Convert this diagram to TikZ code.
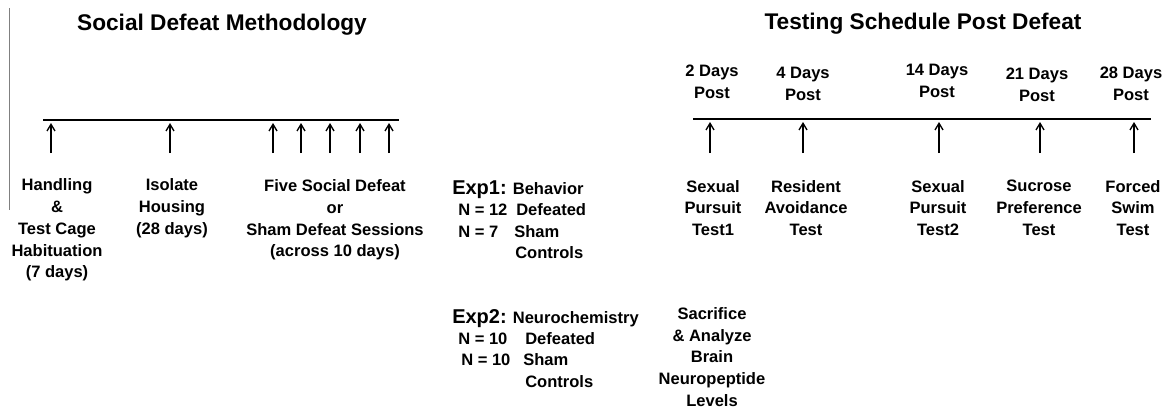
\documentclass[tikz,border=0pt]{standalone}
\usepackage{fontspec}
\setmainfont{Liberation Sans}
\usetikzlibrary{arrows.meta}
\tikzset{
  %% Styles %%
  timeline/.style = {line width=1.5pt},
  uparrow/.style = {line width=1pt, -{Straight Barb[length=5pt,width=6pt]}},
  heading/.style = {font=\fontsize{17}{20}\selectfont\bfseries, inner sep=0},
  block/.style = {font=\fontsize{12.4}{16.3}\selectfont\bfseries, align=center, inner sep=0},
  expline/.style = {font=\fontsize{12.4}{16.3}\selectfont\bfseries, anchor=base west, inner sep=0},
}
\newcommand{\expfont}{\fontsize{15}{18}\selectfont}

\begin{document}
\begin{tikzpicture}[x=0.75pt, y=-0.75pt]
  \useasboundingbox (0,0) rectangle (1166,408);
  % side rule
  \coordinate (ra) at (9,8);
  \coordinate (rb) at (9,210);
  \draw[black!50, line width=0.75pt] (ra) -- (rb);

  % Social defeat methodology
  \node[heading] (t1) at (222,25) {Social Defeat Methodology};
  \coordinate (la) at (43,120);
  \coordinate (lb) at (399,120);
  \draw[timeline] (la) -- (lb);
  \foreach \x [count=\k] in {51,170,273,301,330,360,389} {
    \coordinate (ls\k) at (\x,153);
    \coordinate (lt\k) at (\x,123);
    \draw[uparrow] (ls\k) -- (lt\k);
  }
  \node[block] (hab) at (57,230) {Handling\\\&\\Test Cage\\Habituation\\(7 days)};
  \node[block] (iso) at (172,208) {Isolate\\Housing\\(28 days)};
  \node[block] (five) at (335,220) {Five Social Defeat\\or\\Sham Defeat Sessions\\(across 10 days)};

  % Experiments
  \node[expline] (e1) at (452,194) {{\expfont Exp1:} Behavior};
  \node[expline] (e1n1) at (458,215) {N = 12};
  \node[expline] (e1d) at (516,215) {Defeated};
  \node[expline] (e1n2) at (458,237) {N = 7};
  \node[expline] (e1s) at (514,237) {Sham};
  \node[expline] (e1c) at (515,258) {Controls};

  \node[expline] (e2) at (452,323) {{\expfont Exp2:} Neurochemistry};
  \node[expline] (e2n1) at (458,344) {N = 10};
  \node[expline] (e2d) at (525,344) {Defeated};
  \node[expline] (e2n2) at (461,365) {N = 10};
  \node[expline] (e2s) at (523,365) {Sham};
  \node[expline] (e2c) at (525,387) {Controls};

  \node[block] (sac) at (712,357) {Sacrifice\\\& Analyze\\Brain\\Neuropeptide\\Levels};

  % Testing schedule
  \node[heading] (t2) at (923,24) {Testing Schedule Post Defeat};
  \coordinate (ra2) at (693,119);
  \coordinate (rb2) at (1151,119);
  \draw[timeline] (ra2) -- (rb2);
  \foreach \x [count=\k] in {710,803,939,1040,1134} {
    \coordinate (rs\k) at (\x,153);
    \coordinate (rt\k) at (\x,122);
    \draw[uparrow] (rs\k) -- (rt\k);
  }
  \node[block] (d2) at (712,82) {2 Days\\Post};
  \node[block] (d4) at (803,84) {4 Days\\Post};
  \node[block] (d14) at (937,81) {14 Days\\Post};
  \node[block] (d21) at (1037,85) {21 Days\\Post};
  \node[block] (d28) at (1131,84) {28 Days\\Post};

  \node[block] (sp1) at (713,208) {Sexual\\Pursuit\\Test1};
  \node[block] (ra) at (806,208) {Resident\\Avoidance\\Test};
  \node[block] (sp2) at (938,208) {Sexual\\Pursuit\\Test2};
  \node[block] (suc) at (1039,208) {Sucrose\\Preference\\Test};
  \node[block] (fst) at (1133,208) {Forced\\Swim\\Test};
\end{tikzpicture}
\end{document}
